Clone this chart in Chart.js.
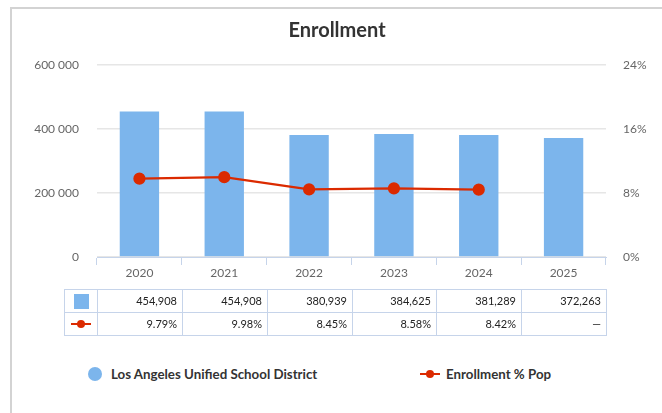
<!DOCTYPE html>
<html>
<head>
<meta charset="utf-8">
<script src="https://cdn.jsdelivr.net/npm/chart.js@4/dist/chart.umd.min.js"></script>
<style>
  body { margin: 0; background: #fff; font-family: Lato, sans-serif; }
  #frame { position: absolute; left: 10px; top: 7px; width: 660px; height: 420px;
           border-left: 2px solid #d3d3d3; border-top: 2px solid #d3d3d3; }
  #wrap { position: absolute; left: 0; top: 0; width: 662px; height: 290px; }
  .cell { position: absolute; box-sizing: border-box; border: 1px solid #c6d4ea;
          font-size: 11px; color: #222; text-align: right; padding-right: 5px; line-height: 22px; height: 24px; }
  .leg { position: absolute; top: 366px; font-size: 13.3px; font-weight: bold; color: #333; white-space: nowrap; }
</style>
</head>
<body>
<div id="frame"></div>
<div id="wrap"><canvas id="myChart"></canvas></div>
<div id="table"></div>
<div class="leg" style="left:88px;"><span style="display:inline-block;width:14px;height:14px;border-radius:7px;background:#7cb5ec;vertical-align:-2px;margin-right:9px;"></span>Los Angeles Unified School District</div>
<div class="leg" style="left:420px;"><span style="display:inline-block;position:relative;width:20px;height:14px;vertical-align:-2px;margin-right:6px;"><span style="position:absolute;left:0;top:6px;width:20px;height:2px;background:#db2a00;"></span><span style="position:absolute;left:6px;top:3px;width:8px;height:8px;border-radius:4px;background:#db2a00;"></span></span>Enrollment % Pop</div>
<script>
let years = ['2020', '2021', '2022', '2023', '2024', '2025'];
let enrollment = [454908, 454908, 380939, 384625, 381289, 372263];
let pctPop = [9.79, 9.98, 8.45, 8.58, 8.42, null];
let enrollLabels = ['454,908', '454,908', '380,939', '384,625', '381,289', '372,263'];
let pctLabels = ['9.79%', '9.98%', '8.45%', '8.58%', '8.42%', '—'];

let blue = '#7cb5ec';
let red = '#db2a00';
let tickFont = {family: 'Lato', size: 12};

let ctx = document.getElementById('myChart').getContext('2d');
let chart = new Chart(ctx, {
    data: {
        labels: years,
        datasets: [{
            type: 'line',
            label: 'Enrollment % Pop',
            data: pctPop,
            yAxisID: 'y1',
            borderColor: red,
            backgroundColor: red,
            borderWidth: 2.2,
            pointRadius: 5,
            pointHoverRadius: 5,
            order: 0
        }, {
            type: 'bar',
            label: 'Los Angeles Unified School District',
            data: enrollment,
            yAxisID: 'y',
            backgroundColor: blue,
            categoryPercentage: 0.8,
            barPercentage: 0.58,
            order: 1
        }]
    },
    options: {
        responsive: true,
        maintainAspectRatio: false,
        animation: false,
        layout: {padding: {left: 12}},
        plugins: {
            legend: {display: false},
            tooltip: {enabled: false},
            title: {
                display: true,
                text: 'Enrollment',
                color: '#333',
                font: {family: 'Lato', size: 20, weight: 'bold'},
                padding: {top: 19, bottom: 22}
            }
        },
        scales: {
            x: {
                grid: {drawOnChartArea: false, color: '#c6d4ea', tickLength: 8},
                border: {color: '#c6d4ea'},
                ticks: {font: tickFont, color: '#666', padding: 1},
                afterFit: function (scale) { scale.height = 33; }
            },
            y: {
                position: 'left',
                min: 0,
                max: 600000,
                ticks: {
                    stepSize: 200000,
                    font: tickFont,
                    color: '#666',
                    padding: 18,
                    callback: v => String(v).replace(/\B(?=(\d{3})+(?!\d))/g, ' ')
                },
                grid: {color: '#e6e6e6', lineWidth: 1.5, drawTicks: false},
                border: {display: false},
                afterFit: function (scale) { scale.width = 85; }
            },
            y1: {
                position: 'right',
                min: 0,
                max: 24,
                ticks: {stepSize: 8, font: tickFont, color: '#666', padding: 9, callback: v => v + '%'},
                grid: {display: false},
                border: {display: false},
                afterFit: function (scale) { scale.width = 56; }
            }
        }
    }
});

// data table under the axis, columns follow the category scale
let xs = chart.scales.x;
let colW = (xs.right - xs.left) / years.length;
let table = document.getElementById('table');
let rows = [enrollLabels, pctLabels];
let tableTop = 289, rowH = 23, firstLeft = 64;
rows.forEach(function (row, r) {
    let top = tableTop + r * rowH;
    let first = document.createElement('div');
    first.className = 'cell';
    first.style.left = firstLeft + 'px';
    first.style.top = top + 'px';
    first.style.width = (Math.round(xs.left) - firstLeft + 1) + 'px';
    if (r === 0) {
        first.innerHTML = '<span style="position:absolute;left:9px;top:4px;width:15px;height:15px;background:' + blue + '"></span>';
    } else {
        first.innerHTML = '<span style="position:absolute;left:6px;top:10px;width:20px;height:2px;background:' + red + '"></span>' +
            '<span style="position:absolute;left:12px;top:7px;width:8px;height:8px;border-radius:4px;background:' + red + '"></span>';
    }
    table.appendChild(first);
    row.forEach(function (txt, i) {
        let l = Math.round(xs.left + i * colW);
        let rgt = Math.round(xs.left + (i + 1) * colW);
        let c = document.createElement('div');
        c.className = 'cell';
        c.style.left = l + 'px';
        c.style.top = top + 'px';
        c.style.width = (rgt - l + 1) + 'px';
        c.textContent = txt;
        table.appendChild(c);
    });
});
</script>
</body>
</html>
